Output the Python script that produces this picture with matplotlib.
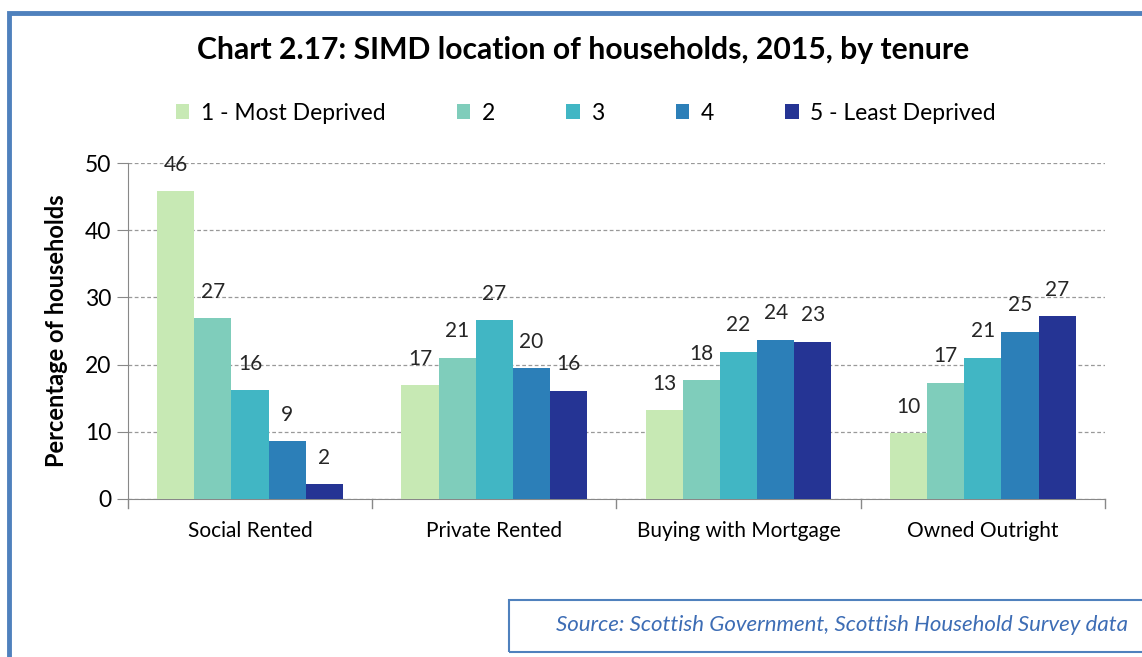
import numpy as np
import matplotlib
matplotlib.use("Agg")
import matplotlib.pyplot as plt
from matplotlib.patches import Rectangle

# Data
tenures = ['Social Rented', 'Private Rented', 'Buying with Mortgage', 'Owned Outright']
series = ['1 - Most Deprived', '2', '3', '4', '5 - Least Deprived']
most_deprived = [45.8, 16.9, 13.2, 9.8]
simd_2 = [26.9, 21.0, 17.7, 17.3]
simd_3 = [16.2, 26.6, 21.9, 21.0]
simd_4 = [8.6, 19.5, 23.7, 24.9]
least_deprived = [2.2, 16.1, 23.4, 27.2]
values = [most_deprived, simd_2, simd_3, simd_4, least_deprived]
colors = ['#C7E9B4', '#7FCDBB', '#41B6C4', '#2C7FB8', '#253494']

plt.rcParams['font.family'] = ['Lato', 'DejaVu Sans']

fig = plt.figure(figsize=(11.42, 6.57), dpi=100)
ax = fig.add_axes([0.112, 0.2405, 0.8556, 0.5114])

x = np.arange(len(tenures))
width = 0.152
for i, (name, vals, col) in enumerate(zip(series, values, colors)):
    pos = x + (i - 2) * width
    ax.bar(pos, vals, width, color=col, label=name, zorder=3)
    for p, v in zip(pos, vals):
        ax.annotate(f"{round(v):d}", xy=(p, v), xytext=(0, 19), textcoords='offset points',
                    ha='center', va='center', fontsize=15, color='#262626', zorder=4)

ax.set_xlim(-0.5, len(tenures) - 0.5)
ax.set_ylim(0, 50)
ax.set_yticks(range(0, 51, 10))
ax.tick_params(axis='y', labelsize=16.5, length=8, color='#888888', pad=4)
ax.set_xticks(x)
ax.set_xticklabels(tenures, fontsize=15)
ax.tick_params(axis='x', length=0, pad=16)
# category separators on x-axis
for b in np.arange(-0.5, len(tenures), 1.0):
    ax.plot([b, b], [0, -1.3], color='#888888', lw=1, clip_on=False)

ax.yaxis.grid(True, ls=(0, (3, 2)), color='#999999', lw=0.9, zorder=0)
for s in ['top', 'right']:
    ax.spines[s].set_visible(False)
ax.spines['left'].set_color('#888888')
ax.spines['bottom'].set_color('#888888')

ax.set_ylabel('Percentage of households', fontsize=17, weight='bold', labelpad=12)

fig.text(0.511, 0.924, 'Chart 2.17: SIMD location of households, 2015, by tenure',
         ha='center', va='center', fontsize=21.7, weight='bold')

leg = fig.legend(loc='center', bbox_to_anchor=(0.513, 0.828), ncol=5, frameon=False,
                 fontsize=16.5, handlelength=0.6, handleheight=0.6, handletextpad=0.5,
                 columnspacing=3.1)

# outer chart frame (partly cut off on right and bottom)
fig.patches.append(Rectangle((9 / 1142, -0.1), 1.2, 1 - 12.5 / 657 + 0.1,
                             transform=fig.transFigure, fill=False,
                             edgecolor='#4F81BD', lw=3.5))

# source box
fig.patches.append(Rectangle((509 / 1142, 1 - 652 / 657), 0.6, 52 / 657,
                             transform=fig.transFigure, fill=False,
                             edgecolor='#4F81BD', lw=1.5))
fig.text(1128 / 1142, 1 - 625 / 657,
         'Source: Scottish Government, Scottish Household Survey data',
         ha='right', va='center', fontsize=16, style='italic', color='#3D6DB5')

fig.savefig('out.png', dpi=100)
